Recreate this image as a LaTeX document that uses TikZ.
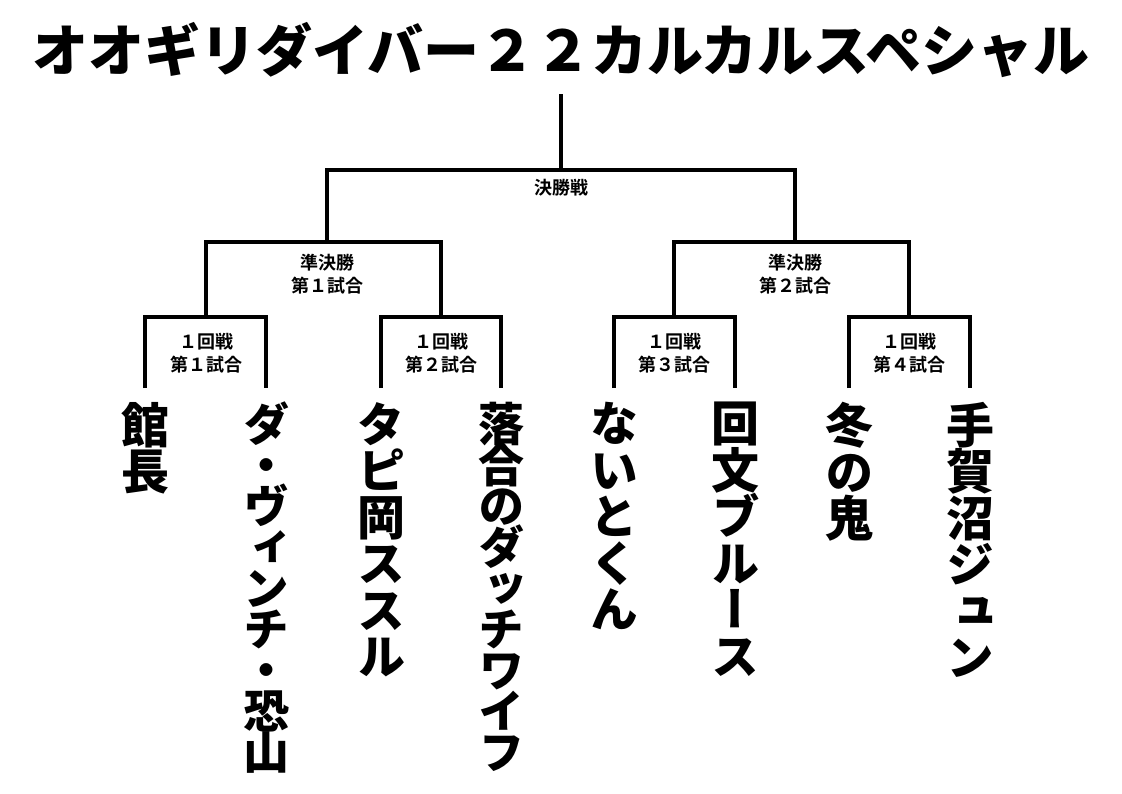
\documentclass[tikz,border=0pt]{standalone}
\usepackage{fontspec}
\setmainfont{Noto Sans CJK JP}[BoldFont={* Bold}]
\newfontfamily\brHeavy{Noto Sans CJK JP Black}
\newfontfamily\brVert{Noto Sans CJK JP Black}[RawFeature=+vert]
\usetikzlibrary{positioning}
\tikzset{
  br/line/.style={draw=black, line width=4pt},
  br/title/.style={font=\brHeavy\fontsize{56}{60}\selectfont, inner sep=0pt},
  br/round/.style={font=\bfseries\fontsize{18}{23}\selectfont, align=center,
    inner sep=0pt},
  br/name/.style={font=\brVert\fontsize{48}{46.5}\selectfont,
    align=center, inner sep=0pt},
  br/tight/.style={br/name, font=\brVert\fontsize{46}{41}\selectfont},
}
\AtBeginDocument{\lineskiplimit=-100pt}

\begin{document}
\begin{tikzpicture}[x=1pt, y=-1pt, node distance=14pt]
\useasboundingbox (0,0) rectangle (1122,793);
\node[br/title] (title) at (561,50) {オオギリダイバー２２カルカルスペシャル};

% junctions of the bracket
\coordinate (top) at (561,94);
\coordinate (fin) at (561,170);
\coordinate (s1) at (327,242);
\coordinate (s2) at (795,242);
\coordinate (m1) at (206,317);
\coordinate (m2) at (441,317);
\coordinate (m3) at (674,317);
\coordinate (m4) at (909,317);
% ends of the leaves
\coordinate (l1) at (145,388);
\coordinate (l2) at (266,388);
\coordinate (l3) at (381,388);
\coordinate (l4) at (501,388);
\coordinate (l5) at (614,388);
\coordinate (l6) at (735,388);
\coordinate (l7) at (849,388);
\coordinate (l8) at (970,388);

\node[br/round, below=9pt of fin] (finlbl) {決勝戦};
\node[br/round, below=12pt of s1] (s1lbl) {準決勝\\第１試合};
\node[br/round, below=12pt of s2] (s2lbl) {準決勝\\第２試合};
\node[br/round, below=16pt of m1] (m1lbl) {１回戦\\第１試合};
\node[br/round, below=16pt of m2] (m2lbl) {１回戦\\第２試合};
\node[br/round, below=16pt of m3] (m3lbl) {１回戦\\第３試合};
\node[br/round, below=16pt of m4] (m4lbl) {１回戦\\第４試合};

\node[br/name, below=of l1] (p1) {館\\長};
\node[br/tight, below=of l2] (p2) {ダ\\・\\ヴ\\ィ\\ン\\チ\\・\\恐\\山};
\node[br/name, below=of l3] (p3) {タ\\ピ\\岡\\ス\\ス\\ル};
\node[br/tight, below=of l4] (p4) {落\\合\\の\\ダ\\ッ\\チ\\ワ\\イ\\フ};
\node[br/name, below=of l5] (p5) {な\\い\\と\\く\\ん};
\node[br/name, below=of l6] (p6) {回\\文\\ブ\\ル\\ー\\ス};
\node[br/name, below=of l7] (p7) {冬\\の\\鬼};
\node[br/name, below=of l8] (p8) {手\\賀\\沼\\ジ\\ュ\\ン};

\draw[br/line] (l1) |- (m1) -| (l2);
\draw[br/line] (l3) |- (m2) -| (l4);
\draw[br/line] (l5) |- (m3) -| (l6);
\draw[br/line] (l7) |- (m4) -| (l8);
\draw[br/line] (m1) |- (s1) -| (m2);
\draw[br/line] (m3) |- (s2) -| (m4);
\draw[br/line] (s1) |- (fin) -| (s2);
\draw[br/line] (fin) -- (top);
\end{tikzpicture}
\end{document}
